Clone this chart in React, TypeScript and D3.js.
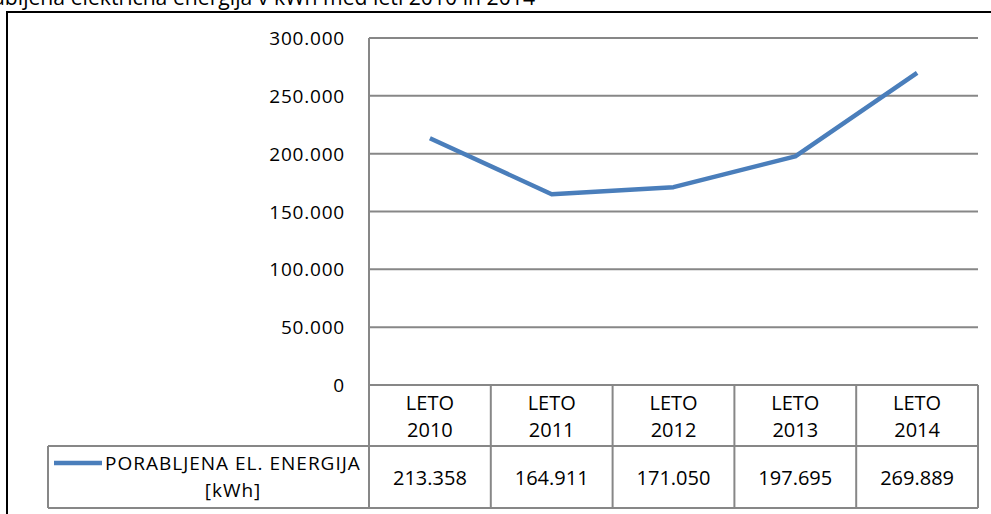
import React from "react";
import * as d3 from "d3";

const categoriesTop = ["LETO", "LETO", "LETO", "LETO", "LETO"];
const years = ["2010", "2011", "2012", "2013", "2014"];
const values = [213358, 164911, 171050, 197695, 269889];
const valueLabels = ["213.358", "164.911", "171.050", "197.695", "269.889"];
const yTicks = [0, 50000, 100000, 150000, 200000, 250000, 300000];
const seriesName1 = "PORABLJENA EL. ENERGIJA";
const seriesName2 = "[kWh]";
const title = "Porabljena električna energija v kWh med leti 2010 in 2014";

const W = 991;
const H = 514;
const FONT = "'Open Sans', sans-serif";

export default function App() {
  const left = 369;
  const right = 978;
  const top = 38;
  const bottom = 385;
  const headerBottom = 446;
  const tableBottom = 508;
  const legendLeft = 48;

  const x = d3.scaleBand<string>().domain(years).range([left, right]);
  const y = d3.scaleLinear().domain([0, 300000]).range([bottom, top]);
  const fmt = (v: number) => (v === 0 ? "0" : d3.format(",")(v).replace(/,/g, "."));

  const line = d3
    .line<number>()
    .x((_, i) => (x(years[i]) as number) + x.bandwidth() / 2)
    .y((d) => y(d));

  const grey = "#878787";

  return (
    <svg
      width={W}
      height={H}
      style={{ position: "absolute", left: 0, top: 0, background: "#fff" }}
      fontFamily={FONT}
    >
      <rect x={0} y={0} width={W} height={H} fill="#fff" />
      <text x={535} y={5} textAnchor="end" fontSize={21.2} fill="#000">
        {title}
      </text>
      <rect x={7} y={12} width={1100} height={700} fill="none" stroke="#000" strokeWidth={2} />

      {/* gridlines */}
      {yTicks.map((t) => (
        <g key={t}>
          <line x1={left} x2={right} y1={y(t)} y2={y(t)} stroke={grey} strokeWidth={2} />
          <text x={345} y={y(t) + 7} textAnchor="end" fontSize={19} letterSpacing={0.8} fill="#000">
            {fmt(t)}
          </text>
        </g>
      ))}
      <line x1={left} x2={left} y1={top} y2={tableBottom} stroke={grey} strokeWidth={2} />

      {/* table */}
      {years.map((yr, i) => {
        const x0 = x(yr) as number;
        const cx = x0 + x.bandwidth() / 2;
        return (
          <g key={yr}>
            <line x1={x0 + x.bandwidth()} x2={x0 + x.bandwidth()} y1={bottom} y2={tableBottom} stroke={grey} strokeWidth={2} />
            <text x={cx} y={410} textAnchor="middle" fontSize={20} fill="#000">
              {categoriesTop[i]}
            </text>
            <text x={cx} y={437} textAnchor="middle" fontSize={20} fill="#000">
              {yr}
            </text>
            <text x={cx} y={485} textAnchor="middle" fontSize={20} fill="#000">
              {valueLabels[i]}
            </text>
          </g>
        );
      })}
      <line x1={legendLeft} x2={right} y1={headerBottom} y2={headerBottom} stroke={grey} strokeWidth={2} />
      <line x1={legendLeft} x2={right} y1={tableBottom} y2={tableBottom} stroke={grey} strokeWidth={2} />
      <line x1={legendLeft} x2={legendLeft} y1={headerBottom} y2={tableBottom} stroke={grey} strokeWidth={2} />

      {/* legend */}
      <line x1={54} x2={102} y1={463} y2={463} stroke="#4a7ebb" strokeWidth={4.5} />
      <text x={105} y={470} fontSize={19} letterSpacing={1} fill="#000">
        {seriesName1}
      </text>
      <text x={233} y={497} textAnchor="middle" fontSize={19} letterSpacing={1} fill="#000">
        {seriesName2}
      </text>

      <path d={line(values) ?? ""} fill="none" stroke="#4a7ebb" strokeWidth={4.5} strokeLinejoin="round" />
    </svg>
  );
}
